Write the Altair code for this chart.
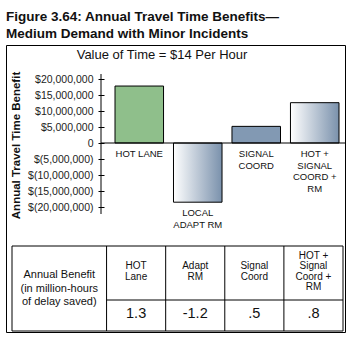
import altair as alt
import pandas as pd

# ---- data ----
categories = ["HOT LANE", "LOCAL ADAPT RM", "SIGNAL COORD", "HOT + SIGNAL COORD + RM"]
cat_labels = ["HOT LANE", "LOCAL\nADAPT RM", "SIGNAL\nCOORD", "HOT +\nSIGNAL\nCOORD +\nRM"]
benefits = [17_800_000, -18_500_000, 5_200_000, 12_600_000]
y_ticks = [20_000_000, 15_000_000, 10_000_000, 5_000_000, 0,
           -5_000_000, -10_000_000, -15_000_000, -20_000_000]

table_row_label = "Annual Benefit\n(in million-hours\nof delay saved)"
table_headers = ["HOT\nLane", "Adapt\nRM", "Signal\nCoord", "HOT +\nSignal\nCoord +\nRM"]
table_values = [1.3, -1.2, 0.5, 0.8]

FONT = "Liberation Sans"

bars_df = pd.DataFrame({"cat": categories, "label": cat_labels, "benefit": benefits})
bars_df["labely"] = bars_df["benefit"].clip(upper=0)

yscale = alt.Scale(domain=[-20_000_000, 20_000_000], range=[162, 34], nice=False, zero=False)
xscale = alt.Scale(domain=categories, range=[109, 333], paddingInner=0.17, paddingOuter=0)
yaxis = alt.Axis(
    values=y_ticks, grid=False, domain=False, offset=-98, tickSize=6, tickColor="black",
    labelPadding=5, labelFont=FONT, labelFontSize=10.5, labelColor="#222",
    labelExpr="datum.value == 0 ? '0' : (datum.value > 0 ? '$' + format(datum.value, ',') : '$(' + format(-datum.value, ',') + ')')",
    title="Annual Travel Time Benefit", titleFont=FONT, titleFontSize=11.5, titleFontWeight="bold",
    titleColor="#111", titleX=-88, titleY=100, titleAngle=270, titleAlign="center", titleBaseline="middle",
)

base = alt.Chart(bars_df)
xenc = alt.X("cat:N", scale=xscale, axis=None)

grad = {"gradient": "linear", "x1": 0, "x2": 1, "y1": 0, "y2": 0,
        "stops": [{"offset": 0, "color": "#ffffff"}, {"offset": 1, "color": "#7a91ac"}]}

green = base.transform_filter(alt.datum.cat == categories[0]).mark_bar(
    fill="#8fbf8b", stroke="black", strokeWidth=1).encode(
    x=xenc, y=alt.Y("benefit:Q", scale=yscale, axis=yaxis), y2=alt.datum(0))
gradbars = base.transform_filter(
    (alt.datum.cat == categories[1]) | (alt.datum.cat == categories[3])).mark_bar(
    fill=grad, stroke="black", strokeWidth=1).encode(
    x=xenc, y=alt.Y("benefit:Q", scale=yscale, axis=yaxis), y2=alt.datum(0))
solid = base.transform_filter(alt.datum.cat == categories[2]).mark_bar(
    fill="#8299b3", stroke="black", strokeWidth=1).encode(
    x=xenc, y=alt.Y("benefit:Q", scale=yscale, axis=yaxis), y2=alt.datum(0))

zero_df = pd.DataFrame({"benefit": [0]})
zero_rule = alt.Chart(zero_df).mark_rule(color="black", strokeWidth=1).encode(
    y=alt.Y("benefit:Q", scale=yscale, axis=yaxis), x=alt.value(95), x2=alt.value(339))

axis_line = alt.Chart(zero_df).mark_rule(color="black", strokeWidth=1).encode(
    x=alt.value(95), y=alt.value(29), y2=alt.value(169))

cat_text = base.mark_text(font=FONT, fontSize=9.5, lineBreak="\n", lineHeight=11.5,
                          baseline="top", align="center", dy=6, color="#111").encode(
    x=alt.X("cat:N", scale=xscale, axis=None, bandPosition=0.5),
    y=alt.Y("labely:Q", scale=yscale, axis=yaxis), text="label:N")

bar_group = alt.layer(green, gradbars, solid, zero_rule, axis_line, cat_text)

# ---- table ----
col_weights = [1.6, 1, 1, 1, 1]
bounds = [0]
for w in col_weights:
    bounds.append(bounds[-1] + w)
row_heights = [54, 31]
row_bounds = [0, row_heights[0], row_heights[0] + row_heights[1]]

tx = alt.Scale(domain=[0, bounds[-1]], range=[6, 337], nice=False, zero=False)
ty = alt.Scale(domain=[0, row_bounds[-1]], range=[201, 286], nice=False, zero=False)

frame_df = pd.DataFrame({"x": [bounds[0]], "x2": [bounds[-1]], "y": [row_bounds[0]], "y2": [row_bounds[-1]]})
frame = alt.Chart(frame_df).mark_rect(fill=None, stroke="black", strokeWidth=1).encode(
    x=alt.X("x:Q", scale=tx, axis=None), x2="x2:Q",
    y=alt.Y("y:Q", scale=ty, axis=None), y2="y2:Q")

vdf = pd.DataFrame({"x": bounds[1:-1], "y": [row_bounds[0]] * 4, "y2": [row_bounds[-1]] * 4})
vlines = alt.Chart(vdf).mark_rule(color="black", strokeWidth=1).encode(
    x=alt.X("x:Q", scale=tx, axis=None), y=alt.Y("y:Q", scale=ty, axis=None), y2="y2:Q")

hdf = pd.DataFrame({"x": [bounds[1]], "x2": [bounds[-1]], "y": [row_bounds[1]]})
hline = alt.Chart(hdf).mark_rule(color="black", strokeWidth=1).encode(
    x=alt.X("x:Q", scale=tx, axis=None), x2="x2:Q", y=alt.Y("y:Q", scale=ty, axis=None))

centers = [(bounds[i] + bounds[i + 1]) / 2 for i in range(len(col_weights))]


def first_line_y(text, center, lh):
    n = text.count("\n") + 1
    return center - (n - 1) * lh / 2


LAB_LH = 13.5
lab_df = pd.DataFrame({"x": [centers[0]], "y": [first_line_y(table_row_label, 42.5, LAB_LH)],
                       "t": [table_row_label]})
lab = alt.Chart(lab_df).mark_text(font=FONT, fontSize=11, lineBreak="\n", lineHeight=LAB_LH,
                                  align="center", baseline="middle", color="#111").encode(
    x=alt.X("x:Q", scale=tx, axis=None), y=alt.Y("y:Q", scale=ty, axis=None), text="t:N")

HEAD_LH = 10.5
head_df = pd.DataFrame({"x": centers[1:], "y": [first_line_y(t, 25.5, HEAD_LH) for t in table_headers],
                        "t": table_headers})
heads = alt.Chart(head_df).mark_text(font=FONT, fontSize=10, lineBreak="\n", lineHeight=HEAD_LH,
                                     align="center", baseline="middle", color="#111").encode(
    x=alt.X("x:Q", scale=tx, axis=None), y=alt.Y("y:Q", scale=ty, axis=None), text="t:N")

val_text = [f"{v:.1f}".replace("0.", ".") for v in table_values]
val_df = pd.DataFrame({"x": centers[1:], "y": [67.5] * 4, "t": val_text})
vals = alt.Chart(val_df).mark_text(font=FONT, fontSize=14.5, align="center",
                                   baseline="middle", color="#111").encode(
    x=alt.X("x:Q", scale=tx, axis=None), y=alt.Y("y:Q", scale=ty, axis=None), text="t:N")

table_group = alt.layer(frame, vlines, hline, lab, heads, vals)

vot = alt.Chart(zero_df).mark_text(font=FONT, fontSize=13, align="center", baseline="middle",
                                   color="#111", text="Value of Time = $14 Per Hour").encode(
    x=alt.value(156), y=alt.value(10))

chart = alt.layer(bar_group, table_group, vot).resolve_scale(
    x="independent", y="independent").properties(
    width=339, height=287,
    autosize=alt.AutoSizeParams(type="none"),
    padding={"left": 6, "top": 45, "right": 6, "bottom": 10},
    title=alt.Title(["Figure 3.64: Annual Travel Time Benefits\u2014", "Medium Demand with Minor Incidents"],
                    anchor="start", font=FONT, fontSize=13.5, fontWeight="bold", lineHeight=17,
                    offset=5, color="#111"),
).configure_view(stroke="black", strokeWidth=1)

chart.save("out.html", embed_options={"renderer": "svg", "actions": False})
